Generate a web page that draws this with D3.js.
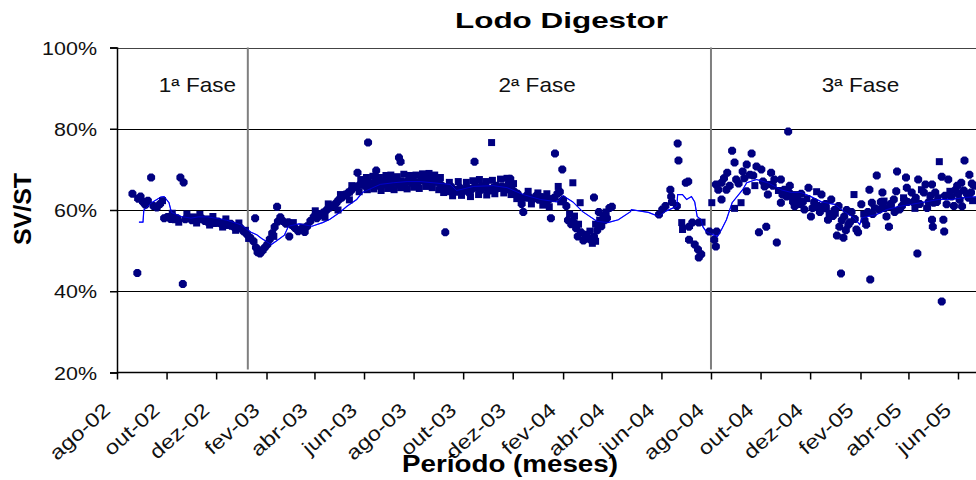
<!DOCTYPE html>
<html>
<head>
<meta charset="utf-8">
<script src="https://cdn.jsdelivr.net/npm/d3@7"></script>
<style>
  body { margin: 0; background: #fff; }
  svg { display: block; font-family: 'Liberation Sans', Arial, sans-serif; }
</style>
</head>
<body>
<div id="chart"></div>
<script>
// tick dates and labels for the x axis
let tickDates = ['2002-08-01', '2002-10-01', '2002-12-01', '2003-02-01', '2003-04-01', '2003-06-01',
  '2003-08-01', '2003-10-01', '2003-12-01', '2004-02-01', '2004-04-01', '2004-06-01', '2004-08-01',
  '2004-10-01', '2004-12-01', '2005-02-01', '2005-04-01', '2005-06-01']
let tickLabels = ['ago-02', 'out-02', 'dez-02', 'fev-03', 'abr-03', 'jun-03', 'ago-03', 'out-03', 'dez-03',
  'fev-04', 'abr-04', 'jun-04', 'ago-04', 'out-04', 'dez-04', 'fev-05', 'abr-05', 'jun-05']
let yTicks = [0.2, 0.4, 0.6, 0.8, 1.0]

let phaseBreaks = ['2003-01-09', '2004-08-01']
let phaseLabels = ['1ª Fase', '2ª Fase', '3ª Fase']
let phaseLabelDates = ['2002-11-08', '2003-12-31', '2005-02-01']

// SV/ST measurements (diamond markers)
let diamondPts = [
  ['2002-08-20', 64.0], ['2002-08-26', 44.5], ['2002-08-27', 62.8], ['2002-08-30', 63.3], ['2002-09-02', 62.0],
  ['2002-09-05', 61.3], ['2002-09-08', 62.3], ['2002-09-12', 68.0], ['2002-09-15', 61.0], ['2002-09-19', 60.6],
  ['2002-09-23', 61.5], ['2002-09-28', 58.0], ['2002-10-02', 58.3], ['2002-10-06', 57.8], ['2002-10-10', 58.2],
  ['2002-10-14', 58.0], ['2002-10-18', 68.0], ['2002-10-21', 41.8], ['2002-10-22', 66.8], ['2002-10-24', 57.7],
  ['2002-10-28', 58.1], ['2002-11-01', 57.5], ['2002-11-05', 58.0], ['2002-11-09', 57.6], ['2002-11-13', 58.0],
  ['2002-11-17', 57.3], ['2002-11-21', 57.0], ['2002-11-25', 57.5], ['2002-11-29', 56.8], ['2002-12-03', 57.2],
  ['2002-12-07', 56.6], ['2002-12-11', 56.9], ['2002-12-15', 56.3], ['2002-12-19', 56.6], ['2002-12-23', 55.8],
  ['2002-12-27', 55.3], ['2002-12-31', 55.6], ['2003-01-04', 54.7], ['2003-01-08', 54.0], ['2003-01-12', 53.2],
  ['2003-01-16', 52.3], ['2003-01-18', 58.0], ['2003-01-19', 50.8], ['2003-01-21', 49.6], ['2003-01-24', 49.3],
  ['2003-01-27', 50.0], ['2003-01-30', 50.8], ['2003-02-02', 51.5], ['2003-02-05', 52.8], ['2003-02-08', 54.3],
  ['2003-02-11', 55.8], ['2003-02-14', 60.8], ['2003-02-15', 57.2], ['2003-02-18', 58.2],
  ['2003-02-21', 57.3], ['2003-02-25', 56.6], ['2003-02-28', 57.0], ['2003-03-01', 53.5], ['2003-03-04', 56.3],
  ['2003-03-08', 55.6], ['2003-03-12', 54.8], ['2003-03-16', 55.3], ['2003-03-20', 54.6], ['2003-03-23', 56.0],
  ['2003-03-27', 57.3], ['2003-03-31', 58.3], ['2003-04-04', 58.0], ['2003-04-08', 59.0], ['2003-04-12', 59.4],
  ['2003-04-16', 60.0], ['2003-04-20', 60.6], ['2003-04-24', 61.0], ['2003-04-28', 61.8], ['2003-05-01', 62.5],
  ['2003-05-05', 63.1], ['2003-05-09', 63.8], ['2003-05-12', 64.1], ['2003-05-16', 64.8], ['2003-05-19', 65.5],
  ['2003-05-23', 65.8], ['2003-05-24', 69.2], ['2003-05-27', 66.2], ['2003-05-30', 66.5], ['2003-06-02', 66.0],
  ['2003-06-06', 76.6], ['2003-06-07', 66.8], ['2003-06-10', 66.3], ['2003-06-14', 66.8], ['2003-06-16', 69.7],
  ['2003-06-18', 66.0], ['2003-06-21', 66.5], ['2003-06-25', 67.0], ['2003-06-29', 66.4], ['2003-07-02', 67.0],
  ['2003-07-06', 66.5], ['2003-07-10', 66.8], ['2003-07-14', 72.9], ['2003-07-16', 71.9], ['2003-07-14', 66.2],
  ['2003-07-18', 67.0], ['2003-07-21', 66.5], ['2003-07-25', 67.2], ['2003-07-29', 66.7], ['2003-08-02', 67.0],
  ['2003-08-06', 66.5], ['2003-08-10', 67.3], ['2003-08-14', 67.5], ['2003-08-18', 67.8], ['2003-08-21', 67.2],
  ['2003-08-25', 66.8], ['2003-08-29', 67.5], ['2003-09-02', 66.5], ['2003-09-05', 66.0], ['2003-09-09', 54.5],
  ['2003-09-09', 65.5], ['2003-09-13', 64.6], ['2003-09-16', 65.8], ['2003-09-20', 65.0], ['2003-09-23', 64.5],
  ['2003-09-27', 65.5], ['2003-10-01', 64.8], ['2003-10-04', 65.0], ['2003-10-08', 64.3], ['2003-10-12', 65.2],
  ['2003-10-15', 71.9], ['2003-10-16', 66.0], ['2003-10-19', 65.5], ['2003-10-23', 65.0], ['2003-10-27', 65.8],
  ['2003-10-31', 65.2], ['2003-11-03', 64.8], ['2003-11-07', 65.5], ['2003-11-11', 66.0], ['2003-11-14', 65.4],
  ['2003-11-18', 65.8], ['2003-11-22', 65.0], ['2003-11-26', 66.5], ['2003-11-28', 67.7], ['2003-11-30', 65.0],
  ['2003-12-03', 64.5], ['2003-12-07', 64.0], ['2003-12-10', 63.0], ['2003-12-12', 61.5], ['2003-12-14', 59.5],
  ['2003-12-18', 63.5], ['2003-12-22', 63.0], ['2003-12-26', 62.8], ['2003-12-30', 63.5], ['2004-01-02', 62.5],
  ['2004-01-06', 63.0], ['2004-01-10', 62.0], ['2004-01-13', 62.3], ['2004-01-17', 58.0], ['2004-01-21', 63.0],
  ['2004-01-22', 73.9], ['2004-01-25', 64.0], ['2004-01-28', 64.5], ['2004-01-31', 70.0], ['2004-02-01', 62.5],
  ['2004-02-05', 61.0], ['2004-02-07', 57.5], ['2004-02-11', 56.5], ['2004-02-14', 57.0], ['2004-02-17', 55.5],
  ['2004-02-19', 53.5], ['2004-02-23', 54.5], ['2004-02-26', 52.5], ['2004-03-03', 53.0], ['2004-03-07', 52.5],
  ['2004-03-10', 63.1], ['2004-03-10', 53.5], ['2004-03-14', 55.0], ['2004-03-16', 59.5], ['2004-03-19', 56.0],
  ['2004-03-23', 57.5], ['2004-03-26', 58.0], ['2004-03-29', 60.5], ['2004-04-01', 60.8],
  ['2004-05-29', 58.9], ['2004-06-02', 60.1], ['2004-06-06', 61.0], ['2004-06-12', 65.0], ['2004-06-13', 63.3],
  ['2004-06-14', 62.0], ['2004-06-20', 61.0], ['2004-06-21', 76.4], ['2004-06-22', 72.2], ['2004-07-01', 66.7],
  ['2004-07-04', 67.0], ['2004-07-05', 52.7], ['2004-07-05', 55.9], ['2004-07-09', 56.9], ['2004-07-12', 51.5],
  ['2004-07-16', 50.3], ['2004-07-17', 56.9], ['2004-07-20', 49.1], ['2004-07-17', 48.3], ['2004-07-30', 54.7],
  ['2004-08-05', 52.7], ['2004-08-07', 51.0], ['2004-08-08', 54.7],
  ['2004-08-07', 66.3], ['2004-08-10', 65.0], ['2004-08-14', 66.7], ['2004-08-14', 62.6], ['2004-08-20', 65.0],
  ['2004-08-21', 69.2], ['2004-08-27', 74.6], ['2004-08-30', 71.7], ['2004-09-01', 67.5], ['2004-09-09', 69.5],
  ['2004-09-14', 71.2], ['2004-09-14', 64.6], ['2004-09-18', 68.7], ['2004-09-20', 73.9], ['2004-09-26', 70.7],
  ['2004-09-29', 54.5], ['2004-10-02', 70.0], ['2004-10-06', 65.8], ['2004-10-08', 55.9], ['2004-10-10', 63.8],
  ['2004-10-14', 69.2], ['2004-10-18', 67.5], ['2004-10-21', 52.0], ['2004-10-26', 67.5], ['2004-10-26', 61.8],
  ['2004-10-30', 65.0], ['2004-11-02', 63.3], ['2004-11-04', 79.3], ['2004-11-05', 64.3], ['2004-11-08', 63.3],
  ['2004-11-10', 62.0], ['2004-11-12', 60.9], ['2004-11-16', 62.5], ['2004-11-18', 61.5], ['2004-11-20', 64.0],
  ['2004-11-24', 60.1], ['2004-11-29', 65.5], ['2004-12-02', 58.4], ['2004-12-04', 60.5], ['2004-12-06', 62.0],
  ['2004-12-11', 61.0], ['2004-12-13', 59.5], ['2004-12-15', 63.8], ['2004-12-18', 61.0], ['2004-12-23', 57.6],
  ['2004-12-25', 59.0], ['2004-12-27', 62.6], ['2004-12-31', 60.0], ['2005-01-03', 53.7], ['2005-01-05', 61.0],
  ['2005-01-06', 55.9], ['2005-01-08', 44.4], ['2005-01-09', 57.5], ['2005-01-11', 53.2], ['2005-01-12', 58.4],
  ['2005-01-15', 60.0], ['2005-01-17', 56.4], ['2005-01-19', 57.0], ['2005-01-21', 59.5], ['2005-01-27', 55.2],
  ['2005-01-29', 54.5], ['2005-02-02', 61.4], ['2005-02-08', 56.4], ['2005-02-10', 59.5], ['2005-02-12', 65.0],
  ['2005-02-13', 42.9], ['2005-02-15', 61.8], ['2005-02-21', 68.5], ['2005-02-24', 60.1], ['2005-02-26', 62.0],
  ['2005-02-28', 64.3], ['2005-03-05', 58.4], ['2005-03-08', 55.9], ['2005-03-10', 61.5], ['2005-03-14', 62.6],
  ['2005-03-17', 64.6], ['2005-03-18', 69.5], ['2005-03-21', 60.1], ['2005-03-24', 61.0], ['2005-03-27', 62.5],
  ['2005-03-29', 68.0], ['2005-03-30', 65.5], ['2005-04-05', 64.3], ['2005-04-07', 62.0], ['2005-04-12', 49.3],
  ['2005-04-13', 67.5], ['2005-04-15', 61.5], ['2005-04-20', 64.3], ['2005-04-22', 66.3], ['2005-04-26', 62.0],
  ['2005-04-28', 63.5], ['2005-04-30', 66.3], ['2005-04-30', 57.6], ['2005-05-01', 55.9], ['2005-05-04', 64.3],
  ['2005-05-06', 62.0], ['2005-05-12', 68.2], ['2005-05-12', 37.5], ['2005-05-14', 57.6], ['2005-05-15', 54.7],
  ['2005-05-18', 61.4], ['2005-05-20', 67.5], ['2005-05-24', 63.3], ['2005-05-27', 61.0], ['2005-05-29', 65.0],
  ['2005-06-01', 64.0], ['2005-06-03', 62.5], ['2005-06-05', 66.7], ['2005-06-06', 60.9], ['2005-06-09', 72.2],
  ['2005-06-12', 64.0], ['2005-06-14', 63.0], ['2005-06-15', 68.7], ['2005-06-17', 64.3], ['2005-06-21', 66.0],
  ['2004-08-17', 67.8], ['2004-08-24', 66.0], ['2004-09-04', 66.5], ['2004-09-11', 67.8], ['2004-09-22', 68.5],
  ['2004-10-04', 67.0], ['2004-10-16', 66.0], ['2004-10-28', 63.8], ['2004-11-06', 66.0], ['2004-11-22', 62.0],
  ['2004-12-08', 60.8], ['2004-12-20', 61.5], ['2004-12-29', 58.5], ['2005-01-14', 55.0], ['2005-01-25', 57.8],
  ['2005-02-06', 57.5], ['2005-02-16', 59.0], ['2005-03-03', 60.5], ['2005-03-15', 59.5], ['2005-03-31', 62.0],
  ['2005-04-10', 63.0], ['2005-04-24', 60.5], ['2005-05-02', 61.8], ['2005-05-16', 63.5], ['2005-05-31', 66.0],
  ['2005-06-08', 64.8], ['2005-06-18', 66.5]
]

// SV/ST measurements (square markers)
let squarePts = [
  ['2002-09-26', 62.3], ['2002-10-12', 57.6], ['2002-11-03', 58.3], ['2002-11-19', 57.8], ['2002-12-05', 56.7],
  ['2002-12-21', 56.0], ['2003-01-06', 55.0], ['2003-01-23', 50.2], ['2003-02-10', 53.5], ['2003-03-06', 56.9],
  ['2003-03-18', 55.8], ['2003-04-10', 58.6], ['2003-04-26', 61.3], ['2003-05-14', 64.4], ['2003-06-04', 66.6],
  ['2003-06-23', 66.2], ['2003-07-08', 67.1], ['2003-07-27', 66.9], ['2003-08-16', 67.0], ['2003-08-31', 66.9],
  ['2003-09-18', 64.9], ['2003-10-06', 65.3], ['2003-10-24', 65.9], ['2003-11-05', 76.6], ['2003-11-09', 65.1],
  ['2003-11-24', 65.6], ['2003-12-16', 62.9], ['2004-01-04', 63.3], ['2004-01-19', 62.8], ['2004-02-13', 66.7],
  ['2004-02-22', 61.8], ['2004-03-01', 54.0], ['2004-03-12', 56.5], ['2004-03-21', 58.7], ['2004-06-26', 56.9],
  ['2004-06-27', 55.2], ['2004-07-21', 57.0], ['2004-08-02', 61.8], ['2004-08-30', 60.4], ['2004-09-07', 61.8],
  ['2004-09-24', 66.0], ['2004-10-12', 66.3], ['2004-10-23', 64.8], ['2004-11-14', 63.8], ['2004-11-27', 62.8],
  ['2004-12-09', 64.5], ['2004-12-21', 60.3], ['2005-01-01', 59.2], ['2005-01-24', 63.8], ['2005-02-05', 59.0],
  ['2005-02-18', 60.5], ['2005-03-02', 62.2], ['2005-03-11', 60.8], ['2005-03-26', 63.0], ['2005-04-09', 60.4],
  ['2005-04-17', 65.0], ['2005-05-07', 63.0], ['2005-05-09', 71.9], ['2005-05-22', 64.6], ['2005-06-19', 62.3],
  ['2002-10-08', 59.2], ['2002-10-26', 59.0], ['2002-11-11', 58.9], ['2002-11-27', 58.4], ['2002-12-13', 57.8],
  ['2002-12-29', 56.8], ['2002-10-16', 57.0], ['2002-11-07', 56.8], ['2002-11-23', 56.3], ['2002-12-09', 55.8],
  ['2002-12-25', 55.0], ['2003-01-10', 53.0],
  ['2003-04-02', 59.8], ['2003-04-18', 61.5], ['2003-05-03', 63.8], ['2003-05-17', 66.0], ['2003-05-28', 67.5],
  ['2003-04-14', 58.2], ['2003-04-30', 60.0], ['2003-05-14', 62.5], ['2003-05-26', 64.5],
  ['2003-06-04', 68.0], ['2003-06-12', 68.3], ['2003-06-20', 68.0], ['2003-06-28', 68.5], ['2003-07-04', 68.6],
  ['2003-07-12', 68.2], ['2003-07-20', 68.8], ['2003-07-28', 68.5], ['2003-08-04', 68.6], ['2003-08-12', 68.9],
  ['2003-08-20', 69.0], ['2003-08-27', 68.6], ['2003-09-03', 68.0],
  ['2003-06-05', 65.0], ['2003-06-13', 65.2], ['2003-06-22', 64.8], ['2003-06-30', 65.3], ['2003-07-08', 65.0],
  ['2003-07-16', 65.5], ['2003-07-24', 65.2], ['2003-08-01', 65.6], ['2003-08-08', 65.3], ['2003-08-16', 65.8],
  ['2003-08-24', 65.5], ['2003-09-01', 65.0], ['2003-09-07', 64.3],
  ['2003-09-14', 66.8], ['2003-09-25', 67.0], ['2003-10-05', 66.8], ['2003-10-13', 67.2], ['2003-10-21', 67.5],
  ['2003-10-29', 67.0], ['2003-11-06', 67.3], ['2003-11-16', 67.6], ['2003-11-24', 67.8], ['2003-12-02', 66.5],
  ['2003-09-18', 63.5], ['2003-09-29', 63.6], ['2003-10-10', 63.3], ['2003-10-20', 63.8], ['2003-10-30', 63.7],
  ['2003-11-09', 64.0], ['2003-11-20', 64.2], ['2003-11-29', 63.8], ['2003-12-06', 62.8],
  ['2003-12-20', 64.6], ['2004-01-01', 64.2], ['2004-01-12', 64.0], ['2004-01-26', 65.8],
  ['2003-12-24', 61.5], ['2004-01-07', 61.2], ['2004-01-15', 60.8], ['2004-01-29', 62.0],
  ['2004-02-09', 59.0], ['2004-02-15', 58.5], ['2004-02-20', 56.5], ['2004-02-28', 54.0], ['2004-03-05', 54.8],
  ['2004-03-08', 51.8], ['2004-03-12', 52.3], ['2004-03-17', 57.5], ['2004-03-25', 59.5]
]

// moving average line
let avgLine = [
  ['2002-08-28', 57.0], ['2002-09-02', 57.0], ['2002-09-03', 60.0], ['2002-09-12', 61.7], ['2002-09-24', 63.2],
  ['2002-09-28', 63.3], ['2002-10-04', 61.8], ['2002-10-07', 59.4], ['2002-10-19', 58.4], ['2002-10-31', 58.0],
  ['2002-11-09', 58.3], ['2002-11-21', 58.3], ['2002-12-14', 57.5], ['2002-12-31', 56.4], ['2003-01-13', 54.5],
  ['2003-01-20', 53.9], ['2003-01-26', 53.0], ['2003-02-07', 51.5], ['2003-02-14', 52.5], ['2003-02-23', 53.8],
  ['2003-02-28', 56.0], ['2003-03-13', 56.6], ['2003-03-29', 56.0], ['2003-04-11', 56.9], ['2003-04-20', 57.7],
  ['2003-05-02', 59.4], ['2003-05-11', 60.9], ['2003-05-23', 62.6], ['2003-05-30', 64.3], ['2003-06-12', 65.5],
  ['2003-06-21', 66.3], ['2003-07-07', 66.7], ['2003-07-24', 67.0], ['2003-08-09', 67.0], ['2003-08-25', 66.7],
  ['2003-09-15', 66.3], ['2003-09-23', 64.8], ['2003-10-14', 65.8], ['2003-11-07', 66.0], ['2003-11-24', 65.5],
  ['2003-12-14', 63.8], ['2004-01-04', 62.6], ['2004-01-25', 62.0], ['2004-02-01', 63.5], ['2004-02-13', 62.0],
  ['2004-02-25', 59.6], ['2004-03-14', 57.2], ['2004-03-27', 56.9], ['2004-04-09', 57.6], ['2004-04-24', 59.6],
  ['2004-04-25', 60.1], ['2004-05-16', 59.4], ['2004-05-29', 58.4], ['2004-06-05', 59.6], ['2004-06-20', 60.9],
  ['2004-06-21', 63.8], ['2004-06-27', 63.8], ['2004-07-02', 62.6], ['2004-07-08', 63.3], ['2004-07-12', 62.0],
  ['2004-07-15', 58.4], ['2004-07-20', 57.6], ['2004-07-22', 55.9], ['2004-07-26', 54.7], ['2004-08-02', 54.0],
  ['2004-08-09', 53.5], ['2004-08-14', 55.2], ['2004-08-20', 57.6], ['2004-08-27', 61.8], ['2004-09-09', 65.0],
  ['2004-09-14', 66.7], ['2004-09-26', 67.5], ['2004-10-10', 66.7], ['2004-10-26', 65.0], ['2004-11-08', 64.3],
  ['2004-11-20', 64.3], ['2004-12-02', 63.3], ['2004-12-15', 62.0], ['2004-12-31', 61.4], ['2005-01-12', 59.6],
  ['2005-01-24', 58.1], ['2005-01-31', 56.4], ['2005-02-03', 58.1], ['2005-02-21', 58.9], ['2005-03-05', 60.1],
  ['2005-03-21', 60.9], ['2005-04-05', 61.4], ['2005-04-22', 62.0], ['2005-05-08', 62.6], ['2005-05-24', 62.6],
  ['2005-06-11', 63.1], ['2005-06-27', 63.3]
]

let width = 976
let height = 480
let plotLeft = 117
let plotRight = 976
let plotTop = 47.5
let plotBottom = 372.5
let textStretch = 1.13

let parseDate = d3.timeParse('%Y-%m-%d')

let svg = d3.select('#chart')
  .append('svg')
    .attr('width', width)
    .attr('height', height)

let xScale = d3.scaleTime()
  .domain([parseDate('2002-08-01'), parseDate('2005-06-01')])
  .range([117, 958])
let yScale = d3.scaleLinear()
  .domain([0.2, 1.0])
  .range([plotBottom, plotTop])

svg.append('clipPath')
    .attr('id', 'plot-clip')
  .append('rect')
    .attr('x', plotLeft)
    .attr('y', plotTop - 6)
    .attr('width', plotRight - plotLeft)
    .attr('height', plotBottom - plotTop + 6)

// Gridlines
svg.append('g')
  .selectAll('line')
  .data(yTicks.slice(1))
  .enter().append('line')
    .attr('x1', plotLeft)
    .attr('x2', plotRight)
    .attr('y1', d => Math.round(yScale(d)) + 0.5)
    .attr('y2', d => Math.round(yScale(d)) + 0.5)
    .attr('stroke', d => d === 1.0 ? '#444' : '#000')
    .attr('stroke-width', 1.2)

// Phase dividers
svg.append('g')
  .selectAll('line')
  .data(phaseBreaks)
  .enter().append('line')
    .attr('x1', d => xScale(parseDate(d)))
    .attr('x2', d => xScale(parseDate(d)))
    .attr('y1', plotTop)
    .attr('y2', plotBottom - 3)
    .attr('stroke', '#7f7f7f')
    .attr('stroke-width', 2)

// Phase labels
svg.append('g')
  .selectAll('text')
  .data(phaseLabels)
  .enter().append('text')
    .attr('transform', (d, i) => `translate(${xScale(parseDate(phaseLabelDates[i]))}, 92) scale(${textStretch}, 1)`)
    .attr('text-anchor', 'middle')
    .attr('font-size', 20)
    .attr('fill', '#111')
    .text(d => d)

let plot = svg.append('g').attr('clip-path', 'url(#plot-clip)')

// Moving average line
let line = d3.line()
  .x(d => xScale(parseDate(d[0])))
  .y(d => yScale(d[1] / 100))

plot.append('path')
  .datum(avgLine)
  .attr('d', line)
  .attr('fill', 'none')
  .attr('stroke', '#0000ff')
  .attr('stroke-width', 1.2)

// Markers (drawn after the line, as in the original)
let markerColor = '#000080'
plot.append('g')
  .selectAll('path')
  .data(diamondPts)
  .enter().append('path')
    .attr('transform', d => `translate(${xScale(parseDate(d[0]))}, ${yScale(d[1] / 100)})`)
    .attr('d', 'M-1.7,-4L1.7,-4L4,-1.7L4,1.7L1.7,4L-1.7,4L-4,1.7L-4,-1.7Z')
    .attr('fill', markerColor)

plot.append('g')
  .selectAll('rect')
  .data(squarePts)
  .enter().append('rect')
    .attr('x', d => xScale(parseDate(d[0])) - 3.5)
    .attr('y', d => yScale(d[1] / 100) - 3.5)
    .attr('width', 7)
    .attr('height', 7)
    .attr('fill', markerColor)

// the average line shows through the markers in places
plot.append('path')
  .datum(avgLine)
  .attr('d', line)
  .attr('fill', 'none')
  .attr('stroke', '#0000ff')
  .attr('stroke-width', 1)
  .attr('opacity', 0.6)

// Axes
let yAxis = svg.append('g')
  .attr('transform', `translate(${plotLeft}, 0)`)
  .call(d3.axisLeft(yScale).tickValues(yTicks).tickSize(7).tickFormat(d3.format('.0%')))
let xAxis = svg.append('g')
  .attr('transform', `translate(0, ${plotBottom})`)
  .call(d3.axisBottom(xScale).tickValues(tickDates.map(parseDate)).tickSize(7).tickFormat((d, i) => tickLabels[i]))

for (let axis of [xAxis, yAxis]) {
  axis.select('.domain').attr('stroke', '#000').attr('stroke-width', 1.5)
  axis.selectAll('.tick line').attr('stroke', '#000').attr('stroke-width', 1.5)
}
xAxis.select('.domain').attr('d', `M${plotLeft},0H${plotRight}`)

yAxis.selectAll('.tick text')
  .attr('x', null)
  .attr('dy', null)
  .attr('transform', `translate(-20, 6.5) scale(${textStretch}, 1)`)
  .attr('font-family', "'Liberation Sans', Arial, sans-serif")
  .attr('font-size', 19)
  .attr('fill', '#111')
  .attr('text-anchor', 'end')

xAxis.selectAll('.tick text')
  .attr('y', null)
  .attr('dy', null)
  .attr('transform', `translate(-6, 39.5) rotate(-42) scale(1.18, 1)`)
  .attr('font-family', "'Liberation Sans', Arial, sans-serif")
  .attr('font-size', 20)
  .attr('fill', '#111')
  .attr('text-anchor', 'end')

// Titles
svg.append('text')
  .attr('x', 561.5)
  .attr('y', 28)
  .attr('text-anchor', 'middle')
  .attr('font-size', 22)
  .attr('font-weight', 'bold')
  .attr('textLength', 213)
  .attr('lengthAdjust', 'spacingAndGlyphs')
  .text('Lodo Digestor')

svg.append('text')
  .attr('transform', 'translate(31, 209) rotate(-90)')
  .attr('text-anchor', 'middle')
  .attr('font-size', 24)
  .attr('font-weight', 'bold')
  .attr('textLength', 72)
  .attr('lengthAdjust', 'spacingAndGlyphs')
  .text('SV/ST')

svg.append('text')
  .attr('x', 510)
  .attr('y', 472)
  .attr('text-anchor', 'middle')
  .attr('font-size', 23)
  .attr('font-weight', 'bold')
  .attr('textLength', 216)
  .attr('lengthAdjust', 'spacingAndGlyphs')
  .text('Período (meses)')
</script>
</body>
</html>
